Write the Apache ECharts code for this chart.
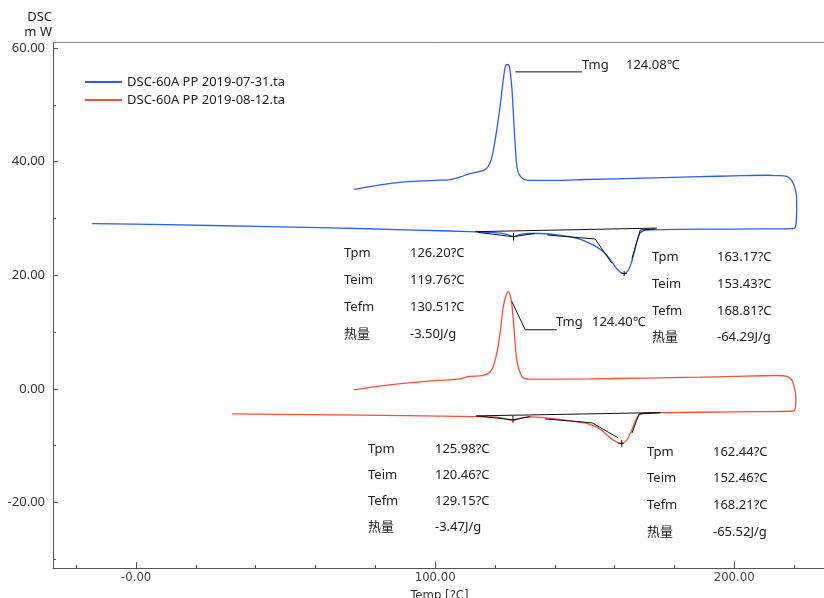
<!DOCTYPE html>
<html><head><meta charset="utf-8">
<script src="https://cdn.jsdelivr.net/npm/echarts@6/dist/echarts.min.js"></script>
<style>html,body{margin:0;padding:0;background:#fff}#c{width:824px;height:598px}</style>
</head><body><div id="c"></div>
<script>
// ---------- data (temperature °C, heat flow mW) ----------
const seriesNames = ['DSC-60A PP 2019-07-31.ta', 'DSC-60A PP 2019-08-12.ta'];

const blueCurve = [
  [-14.7, 29.1], [10, 28.9], [40, 28.6], [65, 28.35], [90, 28.0], [114, 27.65], [119, 27.55],
  [122, 27.4], [124.5, 27.1], [126.2, 26.8], [127.5, 27.0], [129, 27.25], [131, 27.35], [135, 27.35],
  [140, 27.15], [145, 26.8], [148, 26.4], [151, 25.8], [154, 25.0], [156.5, 24.0], [158.5, 22.8],
  [160.5, 21.3], [162, 20.5], [163.2, 20.3], [164.5, 20.8], [165.5, 22.0], [166.5, 23.9], [167.5, 26.0],
  [168.5, 27.4], [170, 27.9], [172, 28.0], [190, 28.1], [210, 28.15], [219.8, 28.2], [220.5, 28.5],
  [220.8, 29.8], [220.9, 32.7], [220.6, 34.8], [219.3, 36.6], [217.6, 37.4], [214, 37.55], [210.9, 37.6],
  [200, 37.5], [188.6, 37.35], [170, 37.1], [150, 36.85], [141.8, 36.7], [131.2, 36.7], [129.0, 37.1],
  [127.5, 38.6], [126.8, 42.7], [126.2, 48.0], [125.6, 53.3], [124.8, 56.8], [124.1, 57.1], [123.5, 56.8],
  [122.8, 54.5], [121.7, 49.7], [120.6, 45.6], [119.5, 42.1], [118.4, 39.8], [116.7, 38.6], [113, 38.05],
  [110.5, 37.7], [108.5, 37.3], [105, 36.85], [100, 36.7], [90, 36.45], [84, 36.1], [78, 35.6], [72.8, 35.1]
];

const redCurve = [
  [32.1, -4.4], [60, -4.55], [90, -4.72], [114, -4.88], [119, -4.95], [122, -5.1], [124.5, -5.4],
  [126, -5.6], [127.5, -5.35], [129.5, -5.05], [132, -4.95], [136, -5.05], [140, -5.3], [145, -5.6],
  [150, -6.0], [152.5, -6.4], [155.2, -7.1], [158.5, -8.6], [160.5, -9.3], [162.1, -9.6], [163.2, -9.45],
  [164.1, -9.0], [165.7, -7.3], [167.0, -5.6], [168.2, -4.6], [170, -4.3], [175.3, -4.2], [200, -4.05],
  [219.8, -3.9], [220.4, -3.5], [220.6, -2.0], [220.5, -0.8], [220.0, 0.5], [219.2, 1.6], [217.6, 2.2],
  [214, 2.35], [200, 2.2], [188.6, 2.05], [170, 1.9], [151.8, 1.75], [131.2, 1.7], [129.0, 2.2],
  [127.3, 5.1], [126.4, 10.4], [125.6, 15.1], [124.9, 16.8], [124.4, 17.1], [123.8, 16.6], [122.8, 14.5],
  [121.7, 9.8], [120.6, 6.3], [118.9, 3.35], [116.1, 2.35], [111.1, 2.17], [108.4, 1.76], [100, 1.45],
  [90, 1.0], [80, 0.4], [72.7, -0.2]
];

// analysis lines (baselines, tangents, peak markers, leaders)
const blueBaseline = [[113.4, 27.67], [174.2, 28.3]];
const blueSmallTangent = [[114.4, 27.54], [126.1, 26.78], [133.4, 27.37]];
const blueSmallMark = [[126.2, 27.4], [126.2, 26.1]];
const blueLeftTangent = [[137.5, 27.08], [153.5, 26.38], [159.1, 22.08]];
const blueRightTangent = [[165.8, 22.96], [168.6, 27.96], [173.6, 28.14]];
const blueBigMarkV = [[163.2, 20.75], [163.2, 19.85]];
const blueBigMarkH = [[162.3, 20.3], [164.1, 20.3]];
const blueTmgLeader = [[126.8, 55.8], [149.1, 55.8]];

const redBaseline = [[113.7, -4.76], [175.3, -4.18]];
const redSmallTangent = [[113.9, -4.76], [126.0, -5.46], [131.8, -4.88]];
const redSmallMark = [[126.0, -4.76], [126.0, -5.99]];
const redLeftTangent = [[136.8, -5.29], [152.5, -5.99], [161.2, -8.63]];
const redRightTangent = [[165.8, -7.8], [168.2, -4.4], [175.3, -4.18]];
const redBigMarkV = [[162.4, -8.99], [162.4, -10.17]];
const redBigMarkH = [[161.3, -9.6], [163.0, -9.6]];
const redTmgLeader = [[125.65, 15.38], [130.1, 10.4], [140.7, 10.4]];

// texts
const peakRowNames = ['Tpm', 'Teim', 'Tefm', '热量'];
const blueSmallPeak = ['126.20?C', '119.76?C', '130.51?C', '-3.50J/g'];
const blueBigPeak = ['163.17?C', '153.43?C', '168.81?C', '-64.29J/g'];
const redSmallPeak = ['125.98?C', '120.46?C', '129.15?C', '-3.47J/g'];
const redBigPeak = ['162.44?C', '152.46?C', '168.21?C', '-65.52J/g'];
const tmgName = 'Tmg';
const tmgValues = ['124.08℃', '124.40℃'];

// axes
const xTickValues = [0, 100, 200];
const xTickLabels = ['-0.00', '100.00', '200.00'];
const xMinorTicks = [-20, 20, 40, 60, 80, 120, 140, 160, 180, 220];
const yTickValues = [-20, 0, 20, 40, 60];
const yTickLabels = ['-20.00', '0.00', '20.00', '40.00', '60.00'];
const yMinorTicks = [-30, -10, 10, 30, 50];
const xAxisName = 'Temp [?C]';
const yAxisName = ['DSC', 'm W'];

// ---------- rendering ----------
const BLUE = '#2b5cff', RED = '#ff4d36';
const TXT = '#222';
const FONT = '"Noto Sans", "Noto Sans CJK SC", sans-serif';
const COND = '"DejaVu Sans Condensed", "DejaVu Sans", sans-serif';

const chart = echarts.init(document.getElementById('c'), null, {renderer: 'canvas'});

function blackLine(data) {
  return {
    type: 'line', data: data, xAxisIndex: 0, yAxisIndex: 0,
    showSymbol: false, symbol: 'none', silent: true, animation: false,
    lineStyle: {color: '#111', width: 1}, z: 3
  };
}

const annotationLines = [
  blueBaseline, blueSmallTangent, blueSmallMark, blueLeftTangent, blueRightTangent,
  blueBigMarkV, blueBigMarkH, blueTmgLeader,
  redBaseline, redSmallTangent, redSmallMark, redLeftTangent, redRightTangent,
  redBigMarkV, redBigMarkH, redTmgLeader
];

// text block layout (pixels)
const blocks = [
  {vals: blueSmallPeak, lx: 344, vx: 410, rows: [253, 280, 307, 334]},
  {vals: blueBigPeak, lx: 652, vx: 717, rows: [257, 284, 311, 337]},
  {vals: redSmallPeak, lx: 368, vx: 435, rows: [449, 475, 501, 527]},
  {vals: redBigPeak, lx: 647, vx: 713, rows: [452, 478, 505, 532]}
];
const graphics = [];
function txt(x, y, s, font, align) {
  graphics.push({
    type: 'text', x: x, y: y, silent: true, z: 10,
    style: {text: s, fill: TXT, font: font || ('13px ' + FONT), align: align || 'left', verticalAlign: 'middle'}
  });
}
blocks.forEach(b => {
  b.rows.forEach((ry, i) => {
    txt(b.lx, ry, peakRowNames[i]);
    txt(b.vx, ry, b.vals[i]);
  });
});
txt(582, 65, tmgName);
txt(626, 65, tmgValues[0]);
txt(556, 322, tmgName);
txt(592, 322, tmgValues[1]);
txt(52, 17, yAxisName[0], '13px ' + FONT, 'right');
txt(52, 32, yAxisName[1], '13px ' + FONT, 'right');

const XMIN = -27.8, XMAX = 230.7, YMIN = -31.54, YMAX = 61.06;
const option = {
  backgroundColor: '#fff',
  animation: false,
  grid: {left: 53, right: -2, top: 42, bottom: 30, containLabel: false, outerBoundsMode: 'none'},
  legend: {
    data: seriesNames,
    orient: 'vertical', left: 85, top: 74, padding: 0,
    itemWidth: 37, itemHeight: 2, itemGap: 2, icon: 'rect',
    textStyle: {color: TXT, fontSize: 13, fontFamily: FONT, lineHeight: 16},
    selectedMode: false
  },
  xAxis: [
    {
      type: 'value', min: XMIN, max: XMAX, position: 'bottom',
      name: xAxisName, nameLocation: 'middle', nameGap: 17,
      nameTextStyle: {color: '#333', fontSize: 13, fontFamily: COND},
      axisLine: {show: true, onZero: false, lineStyle: {color: '#555', width: 1}},
      axisTick: {show: true, inside: true, length: 6, customValues: xTickValues, lineStyle: {color: '#555'}},
      axisLabel: {
        show: true, customValues: xTickValues, margin: 3, color: '#444', fontSize: 13, fontFamily: COND,
        formatter: v => { const i = xTickValues.indexOf(Math.round(v)); return i >= 0 ? xTickLabels[i] : ''; }
      },
      splitLine: {show: false}
    },
    {
      type: 'value', min: XMIN, max: XMAX, position: 'bottom', offset: 0,
      axisLine: {show: false, onZero: false},
      axisTick: {show: true, inside: true, length: 3, customValues: xMinorTicks, lineStyle: {color: '#555'}},
      axisLabel: {show: false}, splitLine: {show: false}
    },
    {
      type: 'value', min: XMIN, max: XMAX, position: 'top',
      axisLine: {show: true, onZero: false, lineStyle: {color: '#888', width: 1}},
      axisTick: {show: false}, axisLabel: {show: false}, splitLine: {show: false}
    }
  ],
  yAxis: [
    {
      type: 'value', min: YMIN, max: YMAX, position: 'left',
      axisLine: {show: true, onZero: false, lineStyle: {color: '#555', width: 1}},
      axisTick: {show: true, inside: true, length: 5, customValues: yTickValues, lineStyle: {color: '#555'}},
      axisLabel: {
        show: true, customValues: yTickValues, margin: 8, color: '#333', fontSize: 13, fontFamily: FONT,
        formatter: v => { const i = yTickValues.indexOf(Math.round(v)); return i >= 0 ? yTickLabels[i] : ''; }
      },
      splitLine: {show: false}
    },
    {
      type: 'value', min: YMIN, max: YMAX, position: 'left', offset: 0,
      axisLine: {show: false, onZero: false},
      axisTick: {show: true, inside: true, length: 3, customValues: yMinorTicks, lineStyle: {color: '#555'}},
      axisLabel: {show: false}, splitLine: {show: false}
    }
  ],
  series: [
    {
      name: seriesNames[0], type: 'line', data: blueCurve, xAxisIndex: 0, yAxisIndex: 0,
      showSymbol: false, symbol: 'none', smooth: 0.3, color: BLUE,
      lineStyle: {color: BLUE, width: 1.3}, z: 2
    },
    {
      name: seriesNames[1], type: 'line', data: redCurve, xAxisIndex: 0, yAxisIndex: 0,
      showSymbol: false, symbol: 'none', smooth: 0.3, color: RED,
      lineStyle: {color: RED, width: 1.3}, z: 2
    }
  ].concat(annotationLines.map(blackLine)),
  graphic: graphics
};
chart.setOption(option);
</script></body></html>
